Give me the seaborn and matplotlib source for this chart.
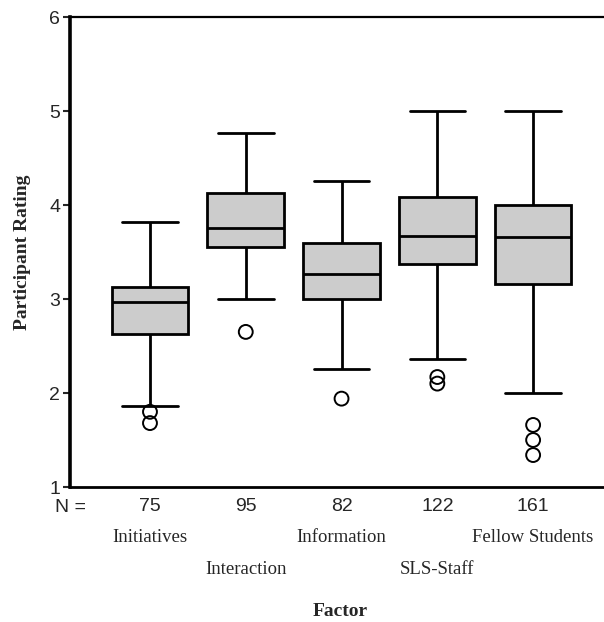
import numpy as np
import pandas as pd
import matplotlib
matplotlib.use("Agg")
import matplotlib.pyplot as plt
import matplotlib.transforms as mtransforms
import seaborn as sns

# ---- data ----
factors = ["Initiatives", "Interaction", "Information", "SLS-Staff", "Fellow Students"]
n_values = [75, 95, 82, 122, 161]
whisker_low = [1.86, 3.00, 2.26, 2.36, 2.00]
q1 = [2.63, 3.55, 3.00, 3.37, 3.16]
median = [2.97, 3.76, 3.27, 3.67, 3.66]
q3 = [3.13, 4.13, 3.60, 4.09, 4.00]
whisker_high = [3.82, 4.77, 4.26, 5.00, 5.00]
outliers = [[1.80, 1.68], [2.65], [1.94], [2.17, 2.10], [1.66, 1.50, 1.34]]
y_ticks = [1, 2, 3, 4, 5, 6]

# long table for the boxes: five summary values per factor
rows = []
for f, a, b, c, d, e in zip(factors, whisker_low, q1, median, q3, whisker_high):
    for v in (a, b, c, d, e):
        rows.append({"Factor": f, "Rating": v})
box_df = pd.DataFrame(rows)
out_df = pd.DataFrame([{"Factor": f, "Rating": v}
                       for f, vals in zip(factors, outliers) for v in vals])

sns.set_style("white")
fig = plt.figure(figsize=(6.04, 6.22), dpi=100)
ax = fig.add_axes([70 / 604, 1 - 487 / 622, 1 - 70 / 604, (487 - 17) / 622])

sns.boxplot(data=box_df, x="Factor", y="Rating", order=factors, whis=(0, 100),
            color="#cccccc", linecolor="black", linewidth=2.0, width=0.8,
            fliersize=0, saturation=1, ax=ax)
# widen the caps to match the reference
for line in ax.lines:
    xd = np.asarray(line.get_xdata(), dtype=float)
    yd = np.asarray(line.get_ydata(), dtype=float)
    if len(xd) == 2 and np.isclose(yd[0], yd[1]) and not np.isclose(xd[0], xd[1]):
        c = xd.mean()
        half = (xd[1] - xd[0]) / 2
        if abs(half) < 0.35:  # caps, not medians
            line.set_xdata([c - 0.29, c + 0.29])
sns.stripplot(data=out_df, x="Factor", y="Rating", order=factors, jitter=False,
              color="black", marker="o", size=10, linewidth=1.4,
              edgecolor="black", ax=ax)
for coll in ax.collections:
    coll.set_facecolor("none")
    coll.set_edgecolor("black")

ax.set_ylim(1, 6)
ax.set_xlim(-0.835, 4.74)
ax.set_yticks(y_ticks)
ax.set_yticklabels([str(t) for t in y_ticks], family="Liberation Sans", fontsize=14)
ax.tick_params(axis="y", direction="out", length=5, width=1.5, pad=2, left=True)
ax.set_xticks(range(len(factors)))
ax.set_xticklabels([str(n) for n in n_values], family="Liberation Sans", fontsize=14)
ax.tick_params(axis="x", length=0, pad=8)

ax.set_xlabel("")
ax.set_ylabel("Participant Rating", family="Liberation Serif", fontweight="bold",
              fontsize=14, labelpad=13)

for side in ["left", "bottom", "top"]:
    ax.spines[side].set_visible(True)
    ax.spines[side].set_color("black")
ax.spines["left"].set_linewidth(2.6)
ax.spines["bottom"].set_linewidth(2.0)
ax.spines["top"].set_linewidth(1.6)
ax.spines["right"].set_visible(False)

trans = mtransforms.blended_transform_factory(ax.transData, fig.transFigure)
ax.text(-0.83, 1 - 507 / 622, "N =", transform=trans, ha="center", va="center",
        family="Liberation Sans", fontsize=14)
for i, f in enumerate(factors):
    ypix = 538 if i % 2 == 0 else 570
    ax.text(i, 1 - ypix / 622, f, transform=trans, ha="center", va="center",
            family="Liberation Serif", fontsize=13.5)

fig.text(340 / 604, 1 - 611 / 622, "Factor", ha="center", va="center",
         family="Liberation Serif", fontweight="bold", fontsize=14)

fig.savefig("out.png", dpi=100)
